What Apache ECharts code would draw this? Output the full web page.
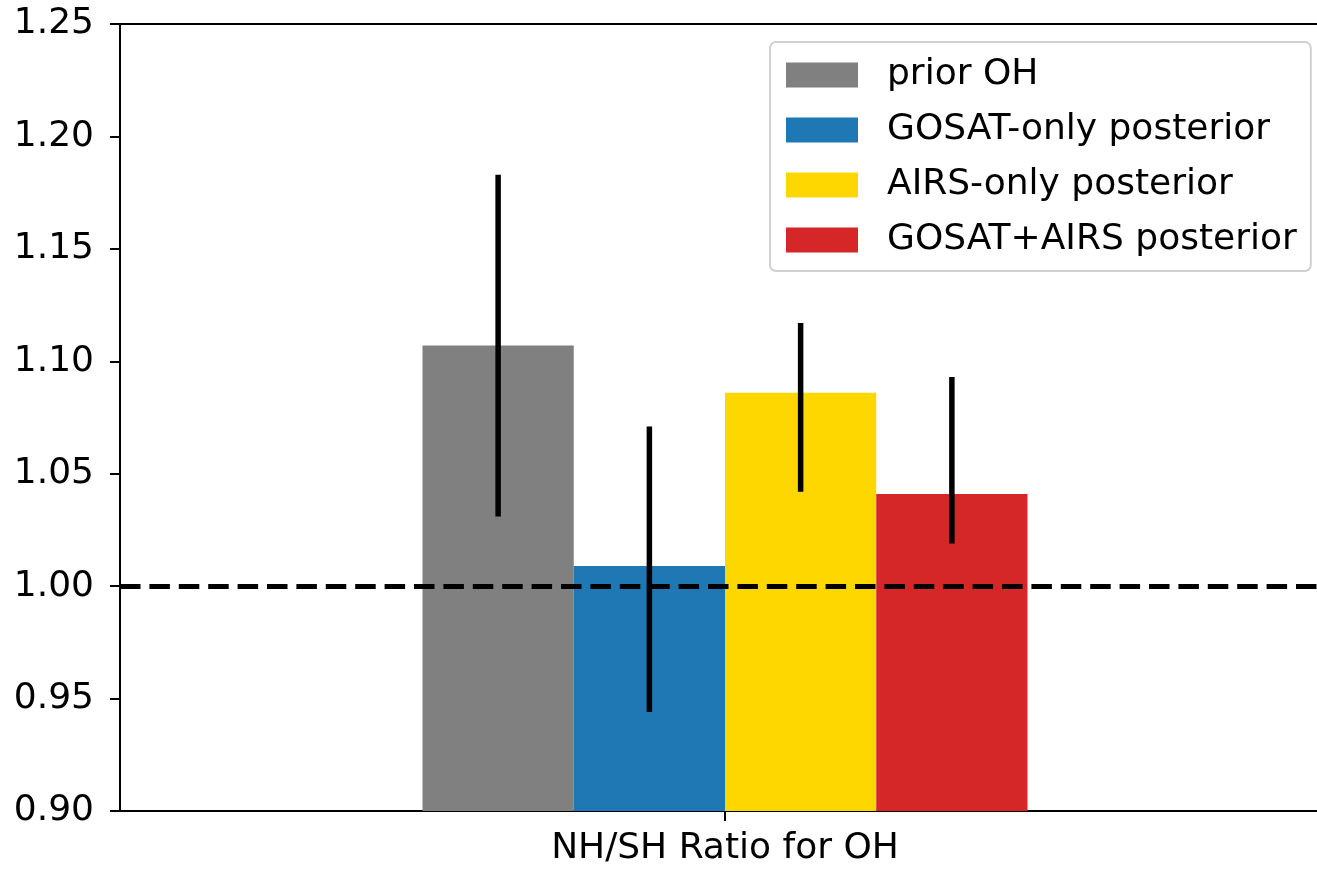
<!DOCTYPE html>
<html>
<head>
<meta charset="utf-8">
<script src="https://cdn.jsdelivr.net/npm/echarts@6/dist/echarts.min.js"></script>
<style>
html,body{margin:0;padding:0;background:#fff;overflow:hidden;width:1317px;height:869px;}
#chart{width:1330px;height:869px;}
</style>
</head>
<body>
<div id="chart"></div>
<script>
const categories = ['NH/SH Ratio for OH'];
const seriesNames = ['prior OH', 'GOSAT-only posterior', 'AIRS-only posterior', 'GOSAT+AIRS posterior'];
const seriesColors = ['#808080', '#1f77b4', '#ffd700', '#d62728'];
const values = [1.107, 1.009, 1.086, 1.041];
const errLow = [1.031, 0.944, 1.042, 1.019];
const errHigh = [1.183, 1.071, 1.117, 1.093];
const refLine = 1.0;

const FONT = 'DejaVu Sans';
const FS = 36;
const BAR_FRAC = 0.125;

const chart = echarts.init(document.getElementById('chart'), null, {renderer: 'canvas'});

const barSeries = seriesNames.map((name, i) => ({
  name: name,
  type: 'bar',
  data: [values[i]],
  barWidth: (BAR_FRAC * 100) + '%',
  barGap: '0%',
  itemStyle: {color: seriesColors[i]},
  z: 2,
  clip: true
}));

const errData = seriesNames.map((n, i) => [0, errLow[i], errHigh[i], i]);

const option = {
  animation: false,
  backgroundColor: '#ffffff',
  textStyle: {fontFamily: FONT},
  grid: {
    left: 120, top: 24, bottom: 58, right: 0,
    show: true, borderColor: '#000', borderWidth: 2, backgroundColor: 'transparent',
    containLabel: false
  },
  legend: {
    orient: 'vertical',
    left: 770, top: 42,
    padding: [15, 14, 13, 16],
    itemWidth: 72, itemHeight: 25,
    itemGap: 19,
    icon: 'rect',
    backgroundColor: 'rgba(255,255,255,0.8)',
    borderColor: '#d0d0d0', borderWidth: 2, borderRadius: 6,
    textStyle: {fontFamily: FONT, fontSize: FS, color: '#000', lineHeight: 36, padding: [0, 0, 0, 24]},
    data: seriesNames
  },
  xAxis: {
    type: 'category',
    data: categories,
    axisLine: {show: true, lineStyle: {color: '#000', width: 2}},
    axisTick: {show: true, alignWithLabel: true, length: 10, lineStyle: {color: '#000', width: 2}},
    axisLabel: {fontFamily: FONT, fontSize: FS, color: '#000', margin: 20},
    splitLine: {show: false}
  },
  yAxis: {
    type: 'value',
    min: 0.9, max: 1.25, interval: 0.05,
    axisLine: {show: true, lineStyle: {color: '#000', width: 2}},
    axisTick: {show: true, length: 10, lineStyle: {color: '#000', width: 2}},
    axisLabel: {fontFamily: FONT, fontSize: FS, color: '#000', margin: 26,
      formatter: v => v.toFixed(2)},
    splitLine: {show: false}
  },
  series: barSeries.concat([
    {
      name: '__ref',
      type: 'line',
      data: [],
      silent: true,
      z: 4,
      markLine: {
        silent: true,
        symbol: ['none', 'none'],
        label: {show: false},
        lineStyle: {color: '#000', width: 5, type: [20.5, 8.9]},
        data: [{yAxis: refLine}]
      }
    },
    {
      name: '__err',
      type: 'custom',
      z: 5,
      silent: true,
      data: errData,
      encode: {x: 0, y: [1, 2]},
      renderItem: function (params, api) {
        const idx = api.value(3);
        const band = api.size([1, 0])[0];
        const w = band * BAR_FRAC;
        const p1 = api.coord([api.value(0), api.value(1)]);
        const p2 = api.coord([api.value(0), api.value(2)]);
        const x = p1[0] + (idx - (seriesNames.length - 1) / 2) * w;
        return {
          type: 'line',
          shape: {x1: x, y1: p1[1], x2: x, y2: p2[1]},
          style: {stroke: '#000', lineWidth: 5.5}
        };
      }
    }
  ])
};

chart.setOption(option);
</script>
</body>
</html>
